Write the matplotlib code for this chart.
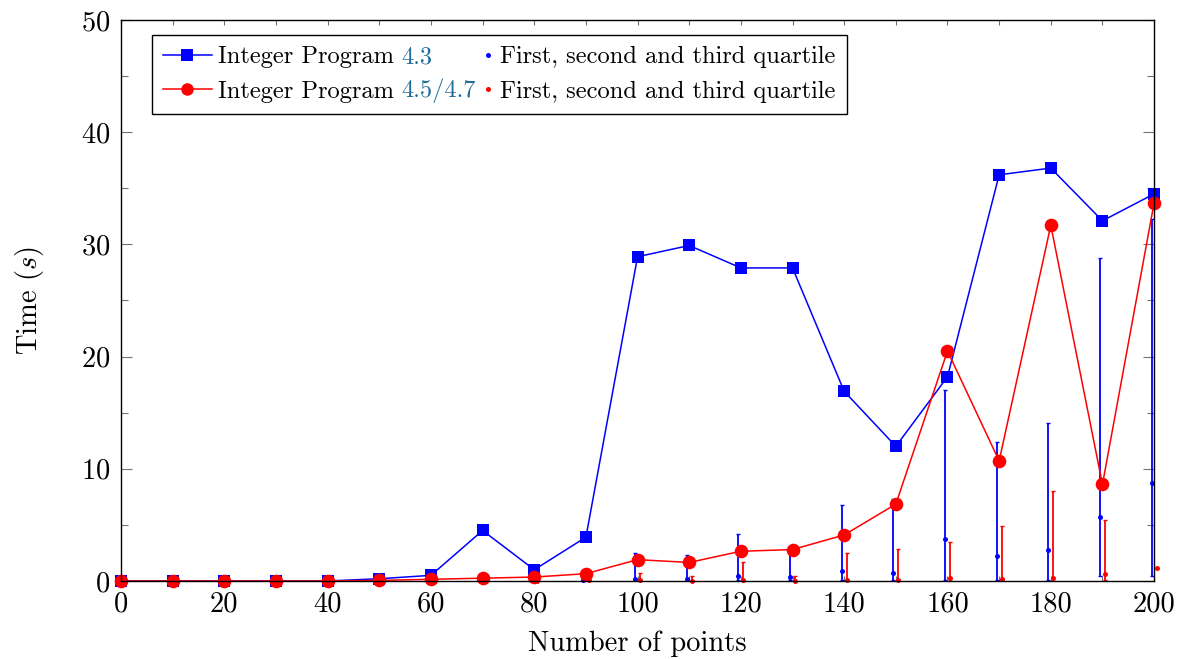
import numpy as np
import matplotlib
matplotlib.use("Agg")
import matplotlib.pyplot as plt
from matplotlib.lines import Line2D
from matplotlib.legend_handler import HandlerLine2D
from matplotlib.ticker import FixedLocator, FuncFormatter, MultipleLocator

plt.rcParams["font.family"] = "cmr10"
plt.rcParams["mathtext.fontset"] = "cm"
plt.rcParams["axes.formatter.use_mathtext"] = True

# number of points in the instance
npoints = [0, 10, 20, 30, 40, 50, 60, 70, 80, 90, 100,
           110, 120, 130, 140, 150, 160, 170, 180, 190, 200]

# mean running time (s)
time_ip43 = [0, 0, 0, 0, 0, 0.2, 0.5, 4.5, 1.0, 3.9, 28.9,
             29.9, 27.9, 27.9, 16.9, 12.0, 18.2, 36.2, 36.8, 32.1, 34.5]
time_ip45 = [0, 0, 0, 0, 0, 0.05, 0.15, 0.25, 0.35, 0.65, 1.9,
             1.65, 2.65, 2.8, 4.1, 6.85, 20.5, 10.7, 31.7, 8.6, 33.7]

# quartiles of the running time
q1_ip43 = [0, 0, 0, 0, 0, 0.01, 0.01, 0.02, 0.02, 0.03, 0.03,
           0.04, 0.06, 0.05, 0.07, 0.08, 0.1, 0.1, 0.12, 0.45, 0.45]
q2_ip43 = [0, 0, 0.01, 0.01, 0.01, 0.02, 0.03, 0.05, 0.05, 0.1, 0.15,
           0.2, 0.48, 0.33, 0.92, 0.74, 3.7, 2.2, 2.8, 5.7, 8.7]
q3_ip43 = [0.02, 0.02, 0.02, 0.03, 0.04, 0.06, 0.1, 0.2, 0.15, 0.35, 2.45,
           2.3, 4.15, 2.5, 6.8, 7.3, 17.0, 12.4, 14.1, 28.8, 32.3]

q1_ip45 = [0, 0, 0, 0, 0, 0, 0, 0, 0, 0.01, 0.01,
           0.01, 0.01, 0.01, 0.01, 0.01, 0.02, 0.02, 0.02, 0.05, 0.3]
q2_ip45 = [0, 0, 0, 0, 0, 0.01, 0.01, 0.02, 0.02, 0.05, 0.05,
           0.03, 0.05, 0.04, 0.05, 0.06, 0.27, 0.18, 0.3, 0.6, 1.13]
q3_ip45 = [0.01, 0.01, 0.01, 0.01, 0.02, 0.03, 0.05, 0.08, 0.1, 0.4, 0.68,
           0.4, 1.72, 0.48, 2.47, 2.85, 3.48, 4.9, 8.02, 5.44, 2.0]

link_color = "#1f6f9a"


class EndMarkerHandler(HandlerLine2D):
    # put the single marker near the right end of the handle box
    def get_xdata(self, legend, xdescent, ydescent, width, height, fontsize):
        xm = -xdescent + width - 0.25 * fontsize
        return np.array([xm - 1.0, xm + 1.0]), np.array([xm])


def quartile_bars(ax, x, q1, q2, q3, color):
    x = np.asarray(x, dtype=float)
    q1, q2, q3 = map(np.asarray, (q1, q2, q3))
    ax.errorbar(x, q2, yerr=[q2 - q1, q3 - q2], fmt="none", ecolor=color,
                elinewidth=1.3, capsize=1.4, capthick=1.0, zorder=2)
    ax.plot(x, q2, "o", color=color, ms=3.6, mew=0, clip_on=False, zorder=2)


fig = plt.figure(figsize=(11.82, 6.59), dpi=100)
ax = fig.add_axes([0.1024, 0.1184, 0.874, 0.8513])

xs = np.array(npoints, dtype=float)
quartile_bars(ax, xs - 0.5, q1_ip43, q2_ip43, q3_ip43, "blue")
quartile_bars(ax, xs + 0.5, q1_ip45, q2_ip45, q3_ip45, "red")

ax.plot(xs, time_ip43, "-s", color="blue", lw=1.1, ms=9.2, mew=0,
        clip_on=False, zorder=3)
ax.plot(xs, time_ip45, "-o", color="red", lw=1.1, ms=9.8, mew=0,
        clip_on=False, zorder=4)

ax.set_xlim(0, 200)
ax.set_ylim(0, 50)
ax.xaxis.set_major_locator(FixedLocator(npoints))
ax.xaxis.set_major_formatter(FuncFormatter(
    lambda v, pos: "%d" % v if int(round(v)) % 20 == 0 else ""))
ax.yaxis.set_major_locator(MultipleLocator(10))
ax.yaxis.set_minor_locator(MultipleLocator(5))

ax.tick_params(axis="both", which="both", direction="in", top=True,
               right=True, color="0.45", width=0.8, labelsize=20.5)
ax.tick_params(axis="x", which="major", length=3.4, pad=7)
ax.tick_params(axis="y", which="major", length=8, pad=8)
ax.tick_params(axis="y", which="minor", length=5)
for sp in ax.spines.values():
    sp.set_color("black")
    sp.set_linewidth(1.0)
    sp.set_zorder(5)

ax.set_xlabel("Number of points", fontsize=20.5, labelpad=10)
ax.set_ylabel("Time ($s$)", fontsize=20.5, labelpad=25)

# legend: main runs in the first column, quartiles in the second
handles = [
    Line2D([], [], color="blue", marker="s", ms=8.6, mew=0, lw=1.1),
    Line2D([], [], color="red", marker="o", ms=9.0, mew=0, lw=1.1),
    Line2D([], [], color="blue", marker="o", ms=3.6, mew=0, ls="none"),
    Line2D([], [], color="red", marker="o", ms=3.6, mew=0, ls="none"),
]
labels = ["Integer Program", "Integer Program",
          "First, second and third quartile",
          "First, second and third quartile"]
leg = ax.legend(handles, labels, ncol=2, loc="upper left",
                bbox_to_anchor=(0.030, 0.973), borderaxespad=0,
                fontsize=17.6, handlelength=2.0, handletextpad=0.25,
                columnspacing=2.1, labelspacing=0.5, borderpad=0.45,
                fancybox=False, framealpha=1, edgecolor="black",
                handler_map={handles[2]: EndMarkerHandler(),
                             handles[3]: EndMarkerHandler()})
leg.get_frame().set_linewidth(1.0)
leg.set_zorder(6)

# equation numbers after the program names, in link colour
texts = leg.get_texts()
for txt, ref in zip(texts[:2], ["4.3", "4.5/4.7"]):
    ax.annotate(ref, xy=(1, 0), xycoords=txt, xytext=(5.5, 0),
                textcoords="offset points", ha="left", va="bottom",
                fontsize=17.6, color=link_color, zorder=7)

fig.savefig("out.png", dpi=100)
